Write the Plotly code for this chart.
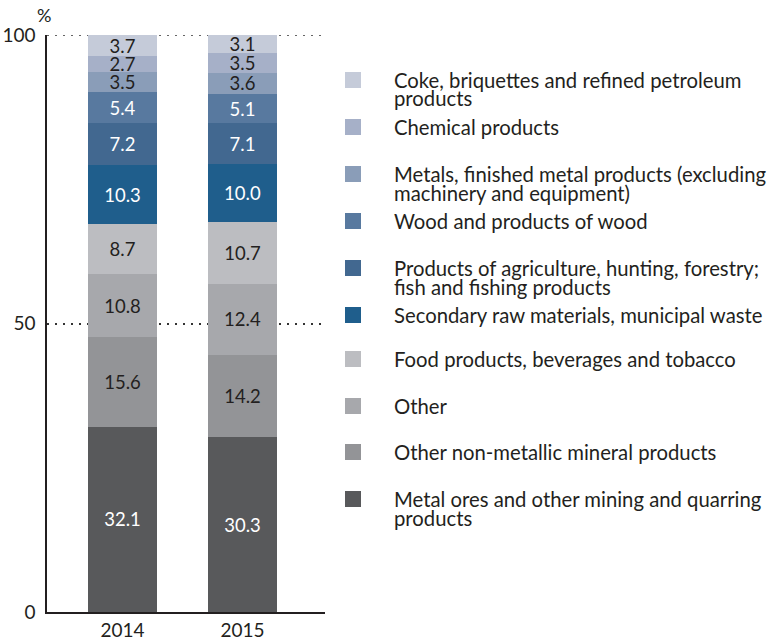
import plotly.graph_objects as go

years = ["2014", "2015"]
categories = [
    "Metal ores and other mining and quarring<br>products",
    "Other non-metallic mineral products",
    "Other",
    "Food products, beverages and tobacco",
    "Secondary raw materials, municipal waste",
    "Products of agriculture, hunting, forestry;<br>fish and fishing products",
    "Wood and products of wood",
    "Metals, finished metal products (excluding<br>machinery and equipment)",
    "Chemical products",
    "Coke, briquettes and refined petroleum<br>products",
]
values_2014 = [32.1, 15.6, 10.8, 8.7, 10.3, 7.2, 5.4, 3.5, 2.7, 3.7]
values_2015 = [30.3, 14.2, 12.4, 10.7, 10.0, 7.1, 5.1, 3.6, 3.5, 3.1]
colors = ["#58595b", "#939497", "#a7a8ac", "#bcbdc1", "#1f5e8c",
          "#426890", "#58799f", "#8a9db8", "#a6b0c8", "#c5cbd9"]
text_colors = ["#ffffff", "#231f20", "#231f20", "#231f20", "#ffffff",
               "#ffffff", "#ffffff", "#231f20", "#231f20", "#231f20"]

FONT = "Lato, Carlito, sans-serif"
W, H = 772, 639
L, R, T, B = 47, 325, 35, 612

fig = go.Figure()
for i, cat in enumerate(categories):
    vals = [values_2014[i], values_2015[i]]
    fig.add_trace(go.Bar(
        x=[0, 1], y=vals, name=cat.replace("<br>", " "),
        marker=dict(color=colors[i], line=dict(width=0)),
        width=0.575,
        text=[f"{v:.1f}" for v in vals],
        textposition="inside", insidetextanchor="middle",
        textangle=0, constraintext="none",
        textfont=dict(family=FONT, size=18.5, color=text_colors[i]),
        showlegend=False,
    ))

# custom legend (legend order: top = last category)
leg_centers = [80, 127, 174, 221, 268, 315, 359, 406, 452, 499]
legend_order = list(range(len(categories)))[::-1]

def px_x(px):
    return (px - L) / (R - L)

def px_y(py):
    return (B - py) / (B - T)

shapes = [dict(type="line", xref="paper", yref="y", x0=0, x1=1, y0=100, y1=100,
               line=dict(color="#333333", width=1.5, dash="2px,6px"), layer="below")]
annotations = []
for k, idx in enumerate(legend_order):
    cy = leg_centers[k]
    shapes.append(dict(type="rect", xref="paper", yref="paper",
                       x0=px_x(345), x1=px_x(361), y0=px_y(cy + 8), y1=px_y(cy - 8),
                       fillcolor=colors[idx], line=dict(width=0)))
    lines = categories[idx].split("<br>")
    for j, line in enumerate(lines):
        annotations.append(dict(xref="paper", yref="paper", x=px_x(392), y=px_y(cy + j * 18.5),
                                xanchor="left", yanchor="middle", text=line, showarrow=False,
                                font=dict(family=FONT, size=20.3, color="#231f20")))

annotations.append(dict(xref="paper", yref="paper", x=px_x(44), y=px_y(15),
                        xanchor="center", yanchor="middle", text="%", showarrow=False,
                        font=dict(family=FONT, size=18, color="#231f20")))

fig.update_layout(
    width=W, height=H,
    margin=dict(l=L, r=W - R, t=T, b=H - B, autoexpand=False),
    barmode="stack",
    plot_bgcolor="white", paper_bgcolor="white",
    font=dict(family=FONT, color="#231f20"),
    shapes=shapes, annotations=annotations,
)
fig.update_xaxes(range=[-0.629, 1.6875], tickvals=[0, 1], ticktext=years,
                 showline=True, linecolor="#231f20", linewidth=1.5,
                 showgrid=False, zeroline=False, ticks="", fixedrange=True,
                 automargin=False,
                 tickfont=dict(family=FONT, size=19, color="#231f20"))
fig.update_yaxes(range=[0, 100], tickvals=[0, 50, 100],
                 showline=True, linecolor="#231f20", linewidth=1.5,
                 showgrid=True, gridcolor="#333333", griddash="2px,6px", gridwidth=1.5,
                 zeroline=False, ticks="", ticklabelstandoff=6, automargin=False,
                 tickfont=dict(family=FONT, size=19, color="#231f20"))

fig.write_html("out.html", config={"displayModeBar": False},
               post_script="document.body.style.margin='0';document.body.style.padding='0';")
